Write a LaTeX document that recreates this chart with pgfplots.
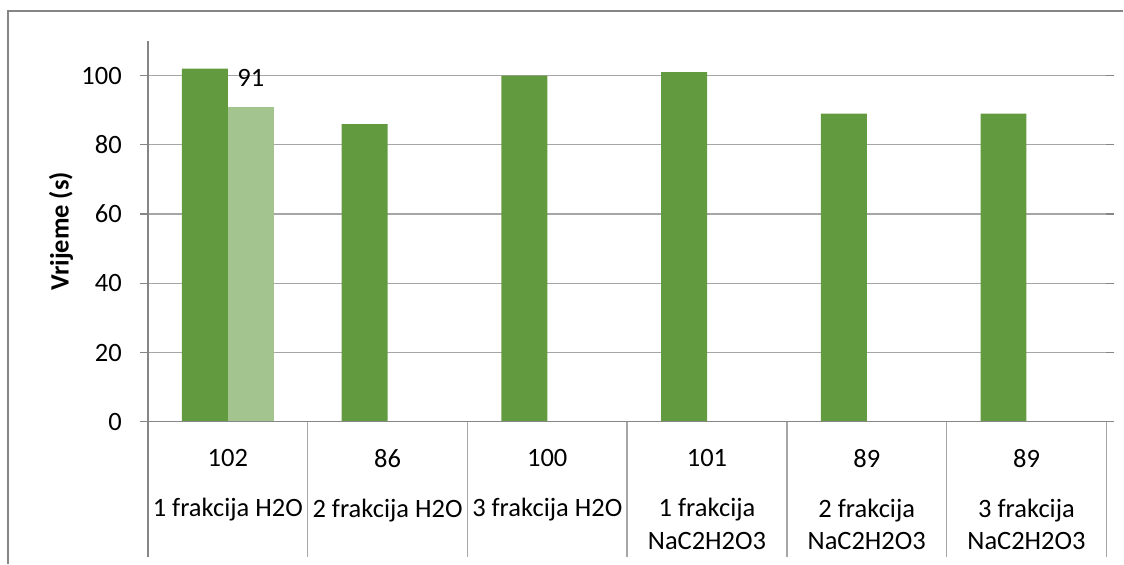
\documentclass[border=0pt]{standalone}
\usepackage{pgfplots}
\pgfplotsset{compat=1.18}
\usepackage{fontspec}
\setmainfont{Carlito}
\definecolor{darkg}{RGB}{98,154,63}
\definecolor{lightg}{RGB}{163,196,143}
\definecolor{axisgray}{RGB}{134,134,134}
\definecolor{gridgray}{RGB}{166,166,166}
\begin{document}
\begin{tikzpicture}
\path (0pt,0pt) rectangle (1124pt,564pt);
\draw[axisgray, line width=1.3pt] (8pt,0pt) -- (8pt,553pt) -- (1124pt,553pt);
\begin{axis}[
  at={(148pt,142pt)}, anchor=south west,
  scale only axis, width=959pt, height=381pt,
  xmin=-0.5, xmax=5.5, ymin=0, ymax=110,
  ybar, bar width=46pt,
  clip=false,
  axis line style={draw=none},
  ymajorgrids, grid style={gridgray, line width=1.3pt},
  ytick={0,20,40,60,80,100},
  ytick style={draw=axisgray, line width=1.3pt},
  major tick length=8pt, tick align=outside,
  xtick={0,1,2,3,4,5},
  xtick style={draw=none},
  xticklabels={
    {102\\[17pt]1 frakcija H2O},
    {86\\[17pt]2 frakcija H2O},
    {100\\[17pt]3 frakcija H2O},
    {101\\[17pt]1 frakcija\\NaC2H2O3},
    {89\\[17pt]2 frakcija\\NaC2H2O3},
    {89\\[17pt]3 frakcija\\NaC2H2O3}},
  xticklabel style={anchor=north, align=center, font=\fontsize{26.5}{33}\selectfont, inner sep=0pt, yshift=-19pt},
  yticklabel style={anchor=east, inner sep=0pt, font=\fontsize{26.5}{31}\selectfont, xshift=-18pt},
  /pgf/number format/assume math mode=true,
]
\addplot[fill=darkg, draw=none, bar shift=-23pt] coordinates {(0,102) (1,86) (2,100) (3,101) (4,89) (5,89)};
\addplot[fill=lightg, draw=none, bar shift=23pt,
  nodes near coords, nodes near coords style={font=\fontsize{26.5}{31}\selectfont, black, anchor=south, yshift=17pt}] coordinates {(0,91)};
% axis lines and data table grid
\draw[axisgray, line width=1.3pt] ([yshift=-135pt]axis cs:-0.5,0) -- (axis cs:-0.5,110);
\draw[axisgray, line width=1.3pt] (axis cs:-0.5,0) -- (axis cs:5.5,0);
\pgfplotsinvokeforeach{0.5,1.5,2.5,3.5,4.5,5.5}{
  \draw[gridgray, line width=1.3pt] (axis cs:#1,0) -- ([yshift=-135pt]axis cs:#1,0);
}
\node[rotate=90, font=\fontsize{26.5}{31}\selectfont\bfseries] at ([xshift=-87pt]rel axis cs:0,0.5) {Vrijeme (s)};
\end{axis}
\end{tikzpicture}
\end{document}
